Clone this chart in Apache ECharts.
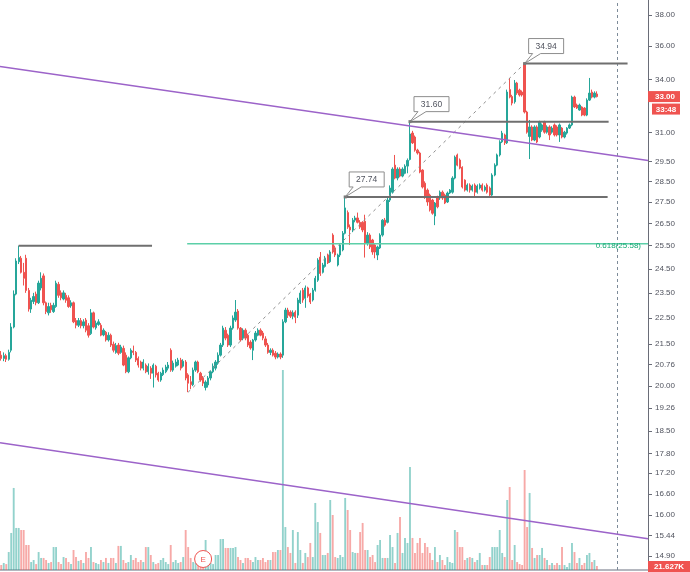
<!DOCTYPE html>
<html>
<head>
<meta charset="utf-8">
<script src="https://cdn.jsdelivr.net/npm/echarts@6.0.0/dist/echarts.min.js"></script>
<style>
html,body{margin:0;padding:0;background:#fff;}
#chart{width:690px;height:572px;}
</style>
</head>
<body>
<div id="chart"></div>
<script>
// ---------------- data ----------------
const opens = [21.10,20.98,21.08,20.95,21.28,22.15,23.45,24.80,24.95,24.35,24.95,23.60,22.85,23.15,23.45,23.10,23.70,24.20,23.10,22.70,
23.00,22.75,22.95,23.85,23.50,23.25,23.40,23.30,22.98,23.10,22.40,22.22,22.40,22.20,22.42,22.20,21.90,22.70,22.12,22.25,
22.22,21.85,21.95,21.66,21.84,21.50,21.20,21.47,21.20,21.35,21.10,20.50,21.00,21.25,21.20,20.98,20.85,20.63,20.74,20.50,
20.63,20.45,20.70,20.45,20.21,20.40,20.50,20.63,21.28,20.56,20.70,20.74,20.92,20.70,20.85,20.39,20.15,20.05,20.56,20.85,
20.45,20.28,19.95,20.04,20.28,20.50,20.63,20.81,21.10,21.47,22.03,21.84,21.47,22.11,22.42,22.77,22.11,21.73,22.03,21.84,
21.58,21.28,21.66,21.84,22.03,21.92,21.70,21.47,21.20,21.28,21.17,21.03,21.14,21.10,22.35,22.81,22.73,22.57,22.73,22.61,
23.10,23.61,23.28,23.70,23.45,23.21,23.61,24.02,25.00,24.35,24.60,25.09,24.80,25.97,25.40,24.66,25.09,25.31,26.05,27.00,
26.33,26.20,26.65,26.75,26.55,26.55,26.60,25.62,25.97,25.75,25.53,25.09,25.40,25.97,26.65,26.55,27.59,27.97,29.31,28.66,
29.11,28.76,28.90,29.26,29.60,30.98,30.77,30.08,29.93,29.06,28.41,28.07,27.83,27.59,26.84,27.74,27.69,27.97,27.83,27.50,
27.93,27.97,28.66,29.83,29.57,29.20,28.56,28.07,28.32,28.07,28.32,27.97,28.17,28.32,28.07,28.32,28.17,27.83,28.81,29.31,
29.83,30.51,30.88,30.46,33.40,33.00,32.70,33.78,33.37,33.26,34.94,32.13,30.80,31.31,30.61,31.31,30.77,31.14,31.58,31.03,
31.31,31.03,31.42,31.31,30.88,31.25,30.77,30.98,31.25,31.42,32.97,32.52,32.24,32.41,32.35,31.96,32.80,33.26,32.97,33.15];
const closes = [20.98,21.08,20.95,21.20,22.15,23.45,24.83,24.98,24.35,24.10,23.60,22.85,23.20,23.35,23.10,23.90,24.10,23.10,22.75,22.95,
22.82,23.00,23.90,23.40,23.30,23.50,23.20,22.95,23.10,22.35,22.22,22.40,22.20,22.35,22.03,21.84,22.70,22.15,22.30,22.35,
21.84,22.03,21.66,21.84,21.47,21.28,21.45,21.17,21.40,20.74,20.50,21.00,21.28,21.20,20.92,20.74,20.63,20.85,20.50,20.70,
20.45,20.74,20.39,20.21,20.45,20.56,20.67,20.74,20.56,20.81,20.85,20.92,20.63,20.88,20.28,20.10,20.05,20.56,20.85,20.50,
20.21,20.10,20.14,20.28,20.50,20.70,20.85,21.10,21.47,22.11,21.73,21.47,22.11,22.50,22.73,22.11,21.66,22.03,21.73,21.47,
21.36,21.66,21.92,22.03,21.84,21.73,21.47,21.20,21.28,21.10,21.03,21.14,21.03,22.35,22.81,22.61,22.57,22.70,22.53,23.21,
23.49,23.21,23.70,23.37,23.13,23.61,24.10,24.87,24.30,24.66,24.95,24.75,25.22,25.22,25.09,25.09,25.53,26.05,27.22,26.33,
26.20,26.65,26.75,26.55,26.33,26.20,25.62,25.97,25.44,25.22,25.22,25.44,25.97,26.65,26.42,27.59,28.17,29.11,28.66,29.11,
28.76,29.11,29.26,29.55,30.93,30.46,30.08,29.93,28.96,28.22,27.74,27.50,27.12,26.97,27.45,27.27,27.97,27.69,27.45,27.93,
28.07,28.66,29.72,29.31,29.16,28.22,28.07,28.32,28.07,28.27,27.97,28.27,28.32,28.07,28.22,27.97,27.83,28.81,29.31,29.83,
30.51,30.98,30.46,33.26,32.97,32.63,33.78,33.20,33.09,33.09,32.13,31.03,31.31,30.61,31.31,30.51,31.58,31.42,31.03,31.31,
30.88,31.25,30.88,30.88,31.42,30.77,31.03,31.25,31.42,32.97,32.41,32.35,32.52,31.96,31.96,32.80,33.20,32.97,33.20,33.00];
const highs = [21.25,21.20,21.15,21.30,22.30,23.60,24.95,25.50,25.05,24.75,25.10,23.70,23.30,23.50,23.55,24.00,24.35,24.30,23.15,23.10,
23.10,23.10,24.00,23.95,23.60,23.60,23.50,23.40,23.20,23.15,22.50,22.50,22.50,22.45,22.50,22.30,22.85,22.75,22.40,22.45,
22.30,22.10,22.00,21.95,21.90,21.60,21.55,21.55,21.48,21.45,21.20,21.05,21.35,21.45,21.25,21.05,20.90,20.95,20.80,20.80,
20.70,20.80,20.75,20.50,20.50,20.65,20.75,20.85,21.35,20.90,20.95,21.00,21.00,20.95,20.92,20.45,20.35,20.65,20.90,20.90,
20.50,20.35,20.20,20.35,20.55,20.80,20.92,21.20,21.55,22.20,22.15,21.90,22.20,22.60,23.21,22.85,22.15,22.10,22.10,21.90,
21.65,21.70,22.00,22.10,22.10,22.00,21.80,21.55,21.35,21.35,21.25,21.20,21.20,22.45,22.90,22.90,22.80,22.80,22.80,23.30,
23.60,23.70,23.80,23.75,23.50,23.70,24.20,24.95,25.22,24.75,25.05,25.15,25.30,26.05,25.50,25.15,25.60,26.15,27.74,27.10,
26.45,26.75,26.85,27.00,26.65,26.60,26.90,26.10,26.05,25.80,25.60,25.50,26.05,26.70,26.75,27.70,28.30,29.20,29.83,29.20,
29.20,29.20,29.35,29.65,31.60,31.10,30.85,30.15,30.00,29.10,28.50,28.15,27.90,27.65,27.50,27.80,28.05,28.05,27.90,28.00,
28.12,28.75,29.80,29.90,29.65,29.25,28.60,28.40,28.40,28.35,28.40,28.35,28.40,28.40,28.30,28.40,28.25,28.90,29.40,29.90,
30.60,31.10,30.95,33.40,34.08,33.10,33.96,33.85,33.45,33.35,34.94,32.20,31.69,31.40,31.40,31.40,31.65,31.50,31.65,31.40,
31.40,31.35,31.50,31.40,31.50,31.30,31.10,31.30,31.50,33.05,33.05,32.60,32.60,32.45,32.40,32.90,34.08,33.40,33.30,33.30];
const lows = [20.90,20.88,20.85,20.90,21.20,22.10,23.40,24.70,24.30,23.80,23.50,22.75,22.70,23.05,23.00,23.05,23.60,23.00,22.65,22.60,
22.70,22.70,22.90,23.30,23.20,23.20,23.10,22.90,22.90,22.30,22.10,22.15,22.10,22.10,21.95,21.75,21.85,22.10,22.05,22.20,
21.80,21.80,21.60,21.60,21.40,21.20,21.15,21.10,21.15,20.70,20.45,20.45,20.95,21.10,20.85,20.65,20.55,20.55,20.45,20.40,
20.25,19.95,20.30,20.15,20.15,20.35,20.45,20.55,20.50,20.50,20.65,20.70,20.55,20.65,20.20,19.79,19.90,20.00,20.50,20.45,
20.15,20.00,19.85,19.95,20.20,20.45,20.55,20.75,21.05,21.40,21.65,21.40,21.40,22.05,22.35,22.05,21.60,21.65,21.65,21.40,
21.30,20.92,21.60,21.80,21.80,21.65,21.40,21.15,21.10,21.05,20.95,20.98,20.95,21.00,22.30,22.50,22.50,22.45,22.30,22.50,
23.05,23.10,22.90,23.30,23.05,23.15,23.55,23.95,24.20,24.30,24.55,24.70,24.75,25.15,25.00,24.60,25.00,25.25,26.00,26.25,
25.53,26.10,26.55,26.50,26.25,26.10,24.98,25.50,25.35,25.10,24.95,24.87,25.35,25.90,26.35,26.50,27.50,27.90,28.60,28.55,
28.70,28.70,28.85,28.90,29.55,30.40,30.00,29.85,28.90,28.15,27.65,27.32,27.05,26.90,26.42,27.20,27.60,27.60,27.40,27.45,
27.88,27.90,28.60,29.25,29.10,28.15,28.00,28.00,27.95,28.00,27.74,27.90,28.10,28.00,28.00,27.90,27.70,27.75,28.75,29.25,
29.75,30.45,30.35,30.40,32.90,32.50,32.60,33.10,33.00,33.00,32.05,30.95,29.62,30.55,30.55,30.45,30.70,31.05,30.95,30.95,
30.61,30.95,30.80,30.80,30.51,30.70,30.70,30.90,31.20,31.35,32.35,32.30,32.20,31.90,31.90,31.90,32.75,32.90,32.90,32.95];
// volume, thousands of shares
const volumes = [27,38,32,97,200,443,227,227,216,216,135,135,43,54,32,97,65,65,54,38,
43,124,124,43,32,70,65,43,32,108,70,49,54,38,97,65,124,43,38,32,
54,43,65,38,65,65,38,130,130,54,38,43,81,54,65,43,54,43,124,124,
81,43,32,38,54,65,43,32,135,43,54,38,43,70,216,124,65,43,38,32,
65,65,162,43,38,32,81,81,167,167,119,119,119,119,124,70,54,38,65,65,
54,43,70,54,54,65,43,54,54,97,97,108,108,1080,232,124,92,216,38,205,
108,38,92,70,146,70,362,259,200,81,81,92,378,297,70,65,81,70,389,324,
216,97,92,92,205,254,108,108,70,81,43,135,162,65,65,65,189,124,38,200,
286,92,173,146,556,173,92,146,173,92,146,124,92,54,124,43,81,54,27,70,
43,38,216,205,124,124,54,65,70,65,43,54,92,27,27,27,70,124,124,124,
216,92,70,378,448,54,135,43,32,27,540,232,416,119,65,81,81,119,65,54,
27,38,27,38,27,124,27,16,38,146,97,38,65,27,38,81,92,43,54,21.627];
const tickLabels = ['38.00','36.00','34.00','31.00','29.50','28.50','27.50','26.50','25.50','24.50','23.50','22.50','21.50','20.76','20.00','19.26','18.50','17.80','17.20','16.60','16.00','15.44','14.90'];
// drawings (bar index, price)
const upperChannel = [[-0.5, 34.76], [259.5, 29.55]];
const lowerChannel = [[-0.5, 18.13], [259.5, 15.36]];
const swingLine = [[75, 19.79], [210, 34.94]];
const fibLevel = [[74.6, 25.58], [259.5, 25.58]];
const fibLabel = '0.618(25.58)';
const levels = [
  [[7, 25.50], [60.5, 25.50]],
  [[138, 27.74], [243.3, 27.74]],
  [[164, 31.60], [243.7, 31.60]],
  [[210, 34.94], [251.3, 34.94]]
];
const callouts = [[138, 27.74], [164, 31.60], [210, 34.94]];
const earningsIndex = 81;
const futureLineIndex = 247;
const countdown = '33:48';
const lastVolumeText = '21.627K';
const slotCount = 260;
const categories = Array.from({length: slotCount}, (_, i) => String(i));

// ---------------- chart ----------------
const UP = '#26a69a', DOWN = '#ef5350';
const FONT = "'Liberation Sans', Arial, sans-serif";
const ln = Math.log;
const tickVals = tickLabels.map(t => ln(parseFloat(t)));
const candleData = opens.map((o, i) => [ln(o), ln(closes[i]), ln(lows[i]), ln(highs[i])]);
const volData = volumes.map((v, i) => ({
  value: v,
  itemStyle: {color: closes[i] >= opens[i] ? 'rgba(38,166,154,0.5)' : 'rgba(239,83,80,0.5)'}
}));
const toLn = pts => pts.map(p => [p[0], ln(p[1])]);

const chart = echarts.init(document.getElementById('chart'), null, {renderer: 'canvas'});

function lineSeries(pts, color, width, type, z) {
  return {
    type: 'line', xAxisIndex: 2, yAxisIndex: 0, data: toLn(pts),
    showSymbol: false, symbol: 'none', silent: true, z: z || 5,
    lineStyle: {color: color, width: width, type: type || 'solid'}
  };
}

const series = [
  {
    type: 'candlestick', xAxisIndex: 0, yAxisIndex: 0, data: candleData, barWidth: 1.8, z: 3,
    itemStyle: {color: UP, color0: DOWN, borderColor: UP, borderColor0: DOWN, borderWidth: 1},
    markLine: {
      silent: true, symbol: 'none', label: {show: false}, animation: false,
      lineStyle: {color: '#7d8b99', type: [3, 3], width: 1},
      data: [{xAxis: futureLineIndex}]
    }
  },
  {
    type: 'bar', xAxisIndex: 1, yAxisIndex: 1, data: volData, barWidth: '75%', z: 1, silent: true
  },
  lineSeries(upperChannel, '#9c63c9', 1.5),
  lineSeries(lowerChannel, '#9c63c9', 1.5),
  lineSeries(swingLine, '#8c8c8c', 1, [3, 4], 4),
  lineSeries(fibLevel, '#5ccfa8', 1.5)
];
levels.forEach(l => series.push(lineSeries(l, '#6f6f6f', 2)));

chart.setOption({
  animation: false,
  backgroundColor: '#ffffff',
  grid: [
    {left: 0, right: 42, top: 0, bottom: 2},
    {left: 0, right: 42, top: 370, bottom: 2}
  ],
  xAxis: [
    {type: 'category', gridIndex: 0, data: categories, show: false},
    {type: 'category', gridIndex: 1, data: categories,
      axisLine: {show: true, onZero: false, lineStyle: {color: '#b4b7bf', width: 2}},
      axisTick: {show: false}, axisLabel: {show: false}, splitLine: {show: false}},
    {type: 'value', gridIndex: 0, min: -0.5, max: slotCount - 0.5, show: false, position: 'top'}
  ],
  yAxis: [
    {
      type: 'value', gridIndex: 0, position: 'right', min: ln(14.55), max: ln(39.0), scale: true,
      axisLine: {show: true, onZero: false, lineStyle: {color: '#6a6d78', width: 1}},
      axisTick: {show: true, length: 4, customValues: tickVals, lineStyle: {color: '#6a6d78'}},
      axisLabel: {
        show: true, customValues: tickVals, margin: 7, color: '#50535e', fontSize: 8, fontFamily: FONT,
        formatter: v => {
          let best = 0, d = Infinity;
          tickVals.forEach((t, k) => { if (Math.abs(t - v) < d) { d = Math.abs(t - v); best = k; } });
          return tickLabels[best];
        }
      },
      splitLine: {show: false}
    },
    {type: 'value', gridIndex: 1, min: 0, max: 1080, show: false}
  ],
  series: series
});

// ---------------- annotations ----------------
function px(x, p) { return chart.convertToPixel({seriesIndex: 2}, [x, ln(p)]); }
const g = [];
callouts.forEach(([idx, price]) => {
  const [ax, ay] = px(idx, price);
  const w = 35, h = 15, left = ax + 4, top = ay - 25;
  g.push({
    type: 'polygon', z: 100,
    shape: {points: [[left, top], [left + w, top], [left + w, top + h], [left + 12, top + h], [ax, ay], [left + 4, top + h], [left, top + h]]},
    style: {fill: '#ffffff', stroke: '#8d8d8d', lineWidth: 1}
  });
  g.push({
    type: 'text', z: 101,
    style: {text: price.toFixed(2), x: left + w / 2, y: top + h / 2 + 0.5, align: 'center', verticalAlign: 'middle',
      fill: '#50535e', font: '8.5px ' + FONT}
  });
  g.push({type: 'rect', z: 101, shape: {x: ax - 1.5, y: ay - 1.5, width: 3, height: 3}, style: {fill: '#7a7a7a'}});
});
// fib label
{
  const [fx, fy] = px(fibLevel[1][0], fibLevel[1][1]);
  g.push({type: 'text', z: 90, style: {text: fibLabel, x: fx - 7, y: fy + 1.5, align: 'right', verticalAlign: 'middle',
    fill: '#17a874', font: '8px ' + FONT}});
}
// last price tag
{
  const last = closes[closes.length - 1];
  const [, ly] = px(0, last);
  const axisX = 648;
  g.push({type: 'rect', z: 110, shape: {x: axisX, y: ly - 5.5, width: 32, height: 11}, style: {fill: DOWN}});
  g.push({type: 'text', z: 111, style: {text: last.toFixed(2), x: axisX + 17, y: ly + 0.5, align: 'center', verticalAlign: 'middle', fill: '#fff', font: 'bold 8px ' + FONT}});
  g.push({type: 'rect', z: 110, shape: {x: axisX + 4, y: ly + 7, width: 28, height: 11}, style: {fill: DOWN}});
  g.push({type: 'text', z: 111, style: {text: countdown, x: axisX + 18, y: ly + 13, align: 'center', verticalAlign: 'middle', fill: '#fff', font: 'bold 8px ' + FONT}});
  // volume tag
  g.push({type: 'rect', z: 110, shape: {x: axisX, y: 561, width: 42, height: 11}, style: {fill: DOWN}});
  g.push({type: 'text', z: 111, style: {text: lastVolumeText, x: axisX + 21, y: 566.5, align: 'center', verticalAlign: 'middle', fill: '#fff', font: 'bold 8px ' + FONT}});
}
// earnings marker
{
  const [ex, ey] = chart.convertToPixel({seriesIndex: 1}, [earningsIndex, 0]);
  g.push({type: 'circle', z: 120, shape: {cx: ex, cy: ey - 11, r: 8.5}, style: {fill: '#ffffff', stroke: DOWN, lineWidth: 1}});
  g.push({type: 'text', z: 121, style: {text: 'E', x: ex, y: ey - 10.5, align: 'center', verticalAlign: 'middle', fill: DOWN, font: '8px ' + FONT}});
}
chart.setOption({graphic: g});
</script>
</body>
</html>
